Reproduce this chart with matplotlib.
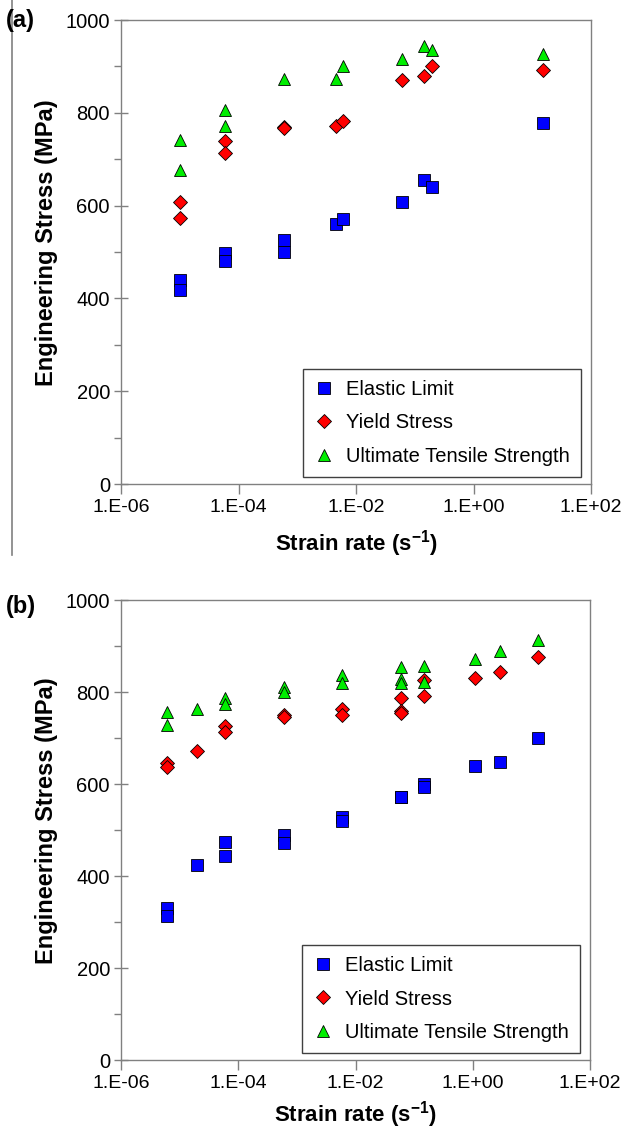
import numpy as np
import matplotlib
matplotlib.use('Agg')
from matplotlib import pyplot as plt
from matplotlib.lines import Line2D
from matplotlib.ticker import MultipleLocator, FixedLocator

plt.rcParams['font.family'] = ['Liberation Sans', 'DejaVu Sans']
plt.rcParams['mathtext.fontset'] = 'custom'
plt.rcParams['mathtext.rm'] = 'Liberation Sans'
plt.rcParams['mathtext.bf'] = 'Liberation Sans:bold'

# ---- panel (a) data ----
a_el_x = [1e-5, 1e-5, 6e-5, 6e-5, 6e-4, 6e-4, 4.5e-3, 6.1e-3, 0.06, 0.146, 0.2, 15]
a_el_y = [440, 418, 497, 481, 526, 501, 561, 572, 607, 655, 640, 777]
a_ys_x = [1e-5, 1e-5, 6e-5, 6e-5, 6e-4, 6e-4, 4.5e-3, 6.1e-3, 0.06, 0.146, 0.2, 15]
a_ys_y = [607, 574, 739, 714, 770, 767, 772, 782, 871, 879, 901, 893]
a_uts_x = [1e-5, 1e-5, 6e-5, 6e-5, 6e-4, 4.5e-3, 6.1e-3, 0.06, 0.146, 0.2, 15]
a_uts_y = [741, 677, 806, 772, 873, 873, 901, 917, 944, 935, 927]

# ---- panel (b) data ----
b_el_x = [6e-6, 6e-6, 2e-5, 6e-5, 6e-5, 6e-4, 6e-4, 6e-3, 6e-3, 0.06, 0.06, 0.15, 0.15, 1.1, 2.9, 12.8]
b_el_y = [330, 312, 424, 473, 444, 489, 472, 528, 520, 572, 571, 601, 593, 640, 647, 701]
b_ys_x = [6e-6, 6e-6, 2e-5, 6e-5, 6e-5, 6e-4, 6e-4, 6e-3, 6e-3, 0.06, 0.06, 0.06, 0.15, 0.15, 1.1, 2.9, 12.8]
b_ys_y = [645, 636, 671, 727, 712, 749, 745, 763, 750, 786, 759, 754, 826, 791, 830, 843, 877]
b_uts_x = [6e-6, 6e-6, 2e-5, 6e-5, 6e-5, 6e-4, 6e-4, 6e-3, 6e-3, 0.06, 0.06, 0.06, 0.15, 0.15, 1.1, 2.9, 12.8]
b_uts_y = [757, 728, 762, 788, 775, 810, 801, 838, 819, 855, 828, 820, 857, 822, 872, 889, 914]

xticks = [1e-6, 1e-4, 1e-2, 1e0, 1e2]
xticklabels = ['1.E-06', '1.E-04', '1.E-02', '1.E+00', '1.E+02']
labels = ['Elastic Limit', 'Yield Stress', 'Ultimate Tensile Strength']

fig = plt.figure(figsize=(6.44, 11.29), dpi=100)
W, H = 644, 1129


def axes_px(l, t, r, b):
    return fig.add_axes([l / W, 1 - b / H, (r - l) / W, (b - t) / H])


def panel(ax, el, ys, uts, xlab_y):
    ms = dict(linestyle='none', markeredgecolor='black', markeredgewidth=0.6)
    ax.plot(el[0], el[1], 's', color='#0000ff', markersize=8.6, label=labels[0], **ms)
    ax.plot(ys[0], ys[1], 'D', color='#ff0000', markersize=6.8, label=labels[1], **ms)
    ax.plot(uts[0], uts[1], '^', color='#00ee00', markersize=9.2, label=labels[2], **ms)
    ax.set_xscale('log')
    ax.set_xlim(1e-6, 1e2)
    ax.set_ylim(0, 1000)
    ax.xaxis.set_major_locator(FixedLocator(xticks))
    ax.set_xticklabels(xticklabels)
    ax.xaxis.set_minor_locator(FixedLocator([]))
    ax.yaxis.set_major_locator(MultipleLocator(200))
    ax.yaxis.set_minor_locator(MultipleLocator(100))
    for s in ax.spines.values():
        s.set_color('#808080')
        s.set_linewidth(1.0)
    ax.tick_params(axis='x', which='major', direction='out', length=7, width=1,
                   color='#808080', labelsize=14, pad=4)
    ax.tick_params(axis='y', which='major', direction='inout', length=10, width=1,
                   color='#808080', labelsize=14.5, pad=3)
    ax.tick_params(axis='y', which='minor', direction='out', length=5, width=1,
                   color='#808080')
    ax.set_ylabel('Engineering Stress (MPa)', fontsize=17, fontweight='bold')
    ax.yaxis.set_label_coords(-0.134, 0.52)
    ax.set_xlabel(r'Strain rate (s$^{\mathbf{-1}}$)', fontsize=16, fontweight='bold')
    ax.xaxis.set_label_coords(0.5, xlab_y)
    leg = ax.legend(loc='lower right', bbox_to_anchor=(0.979, 0.015), borderaxespad=0,
                    fontsize=14.5, fancybox=False, framealpha=1, edgecolor='#404040',
                    handlelength=1.0, handletextpad=0.6, labelspacing=0.72,
                    borderpad=0.55, numpoints=1)
    leg.get_frame().set_linewidth(1.0)


ax1 = axes_px(121, 20, 591, 484)
panel(ax1, (a_el_x, a_el_y), (a_ys_x, a_ys_y), (a_uts_x, a_uts_y), -0.095)
ax2 = axes_px(121, 600, 590, 1060)
panel(ax2, (b_el_x, b_el_y), (b_ys_x, b_ys_y), (b_uts_x, b_uts_y), -0.084)

fig.text(6 / W, 1 - 20 / H, '(a)', fontsize=17, fontweight='bold', va='center', ha='left')
fig.text(6 / W, 1 - 606 / H, '(b)', fontsize=17, fontweight='bold', va='center', ha='left')
fig.add_artist(Line2D([12 / W, 12 / W], [1, 1 - 555 / H], color='#808080', linewidth=1.2))

fig.savefig('out.png', dpi=100)
